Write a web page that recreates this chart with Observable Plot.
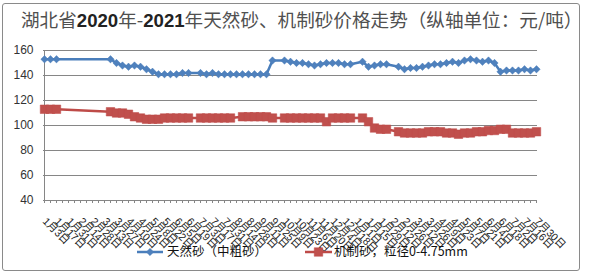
<!DOCTYPE html>
<html><head><meta charset="utf-8">
<script src="https://cdn.jsdelivr.net/npm/d3@7"></script>
<script src="https://cdn.jsdelivr.net/npm/@observablehq/plot@0.6"></script>
<style>
body{margin:0;background:#fff;}
#wrap{position:relative;width:590px;height:274px;overflow:hidden;font-family:"Noto Sans CJK SC",sans-serif;}
#chart{position:absolute;left:0;top:0;}
#legend{position:absolute;left:0;top:0;pointer-events:none;}
#border{position:absolute;left:1.5px;top:2.5px;width:578px;height:268px;border:1px solid #8a8a8a;border-radius:3px;box-sizing:border-box;pointer-events:none;}
#title{position:absolute;left:21px;top:6px;font-size:18.6px;color:#505050;white-space:nowrap;line-height:26px;}
#title b{color:#222;font-weight:bold;font-family:"Liberation Sans",sans-serif;}
</style></head><body>
<div id="wrap">
<div id="chart"></div>
<div id="title"></div>
<svg id="legend" width="590" height="274"></svg>
<div id="border"></div>
</div>
<script>
const titleText = "湖北省2020年-2021年天然砂、机制砂价格走势（纵轴单位：元/吨）";
const seriesNames = ["天然砂（中粗砂）", "机制砂，粒径0-4.75mm"];
const dates = [
"1月3日","1月10日","1月17日","1月24日","1月31日","2月7日","2月14日","2月21日","2月28日",
"3月6日","3月13日","3月20日","3月27日","4月3日","4月10日","4月17日","4月24日",
"5月1日","5月8日","5月15日","5月22日","5月29日","6月5日","6月12日","6月19日","6月26日",
"7月3日","7月10日","7月17日","7月24日","7月31日","8月7日","8月14日","8月21日","8月28日",
"9月4日","9月11日","9月18日","9月25日","10月2日","10月9日","10月16日","10月23日","10月30日",
"11月6日","11月13日","11月20日","11月27日","12月4日","12月11日","12月18日","12月25日",
"1月1日","1月8日","1月15日","1月22日","1月29日","2月5日","2月12日","2月19日","2月26日",
"3月5日","3月12日","3月19日","3月26日","4月2日","4月9日","4月16日","4月23日","4月30日",
"5月7日","5月14日","5月21日","5月28日","6月4日","6月11日","6月18日","6月25日",
"7月2日","7月9日","7月16日","7月23日","7月30日"];
const natural = [
153,153,153,null,null,null,null,null,null,null,null,
153,150,148,147,148,147,145,143,141,141,141,141,142,142,null,
142,141,142,141,141,141,141,141,141,141,141,141,
152,null,152,151,150,150,149,148,149,150,150,150,149,149,null,
151,147,148,149,149,null,
147,145,146,146,147,148,149,149,150,151,150,152,153,152,151,152,150,
143,144,144,144,145,144,145];
const machine = [
113,113,113,null,null,null,null,null,null,null,null,
111,110,110,109,107,106,105,105,105,106,106,106,106,106,null,
106,106,106,106,106,106,null,107,107,107,107,107,106,null,
106,106,106,106,106,106,106,103,106,106,106,106,null,
106,103,98,97,97,null,
95,94,94,94,94,95,95,95,94,94,93,94,94,95,95,96,96,97,97,
94,94,94,94,95];
const yTicks = [40,60,80,100,120,140,160];
const colors = {nat:"#4F81BD", natLine:"#4A7EBB", mac:"#C0504D", macLine:"#BE4B48"};

// title: digits shown bolder, as in the reference
document.getElementById("title").innerHTML =
  titleText.replace(/(\d{4})/g, "<b>$1</b>");

const rows = dates.map((d,i)=>({date:d, natural:natural[i], machine:machine[i]}));
const nat = rows.filter(d=>d.natural!=null);
const mac = rows.filter(d=>d.machine!=null);
const shown = new Set(dates.filter((d,i)=>i%2===0));

const chart = Plot.plot({
  width:590, height:274,
  marginLeft:43, marginRight:53, marginTop:50, marginBottom:74,
  style:{background:"transparent", fontFamily:"'Liberation Sans','Noto Sans CJK SC',sans-serif", overflow:"visible"},
  x:{type:"point", domain:dates, padding:0, label:null},
  y:{domain:[40,160], label:null},
  marks:[
    Plot.gridY(yTicks, {stroke:"#868686", strokeOpacity:1}),
    Plot.ruleX([dates[0]], {y1:40, y2:160, stroke:"#868686"}),
    Plot.axisY(yTicks, {tickSize:0, tickPadding:10, fontSize:12, fill:"#333", label:null}),
    Plot.axisX(dates, {tickSize:3, tickFormat:d=>shown.has(d)?d:"", tickRotate:45, tickPadding:16, fontSize:10.5, stroke:"#868686", fill:"#222", label:null}),
    Plot.line(nat, {x:"date", y:"natural", stroke:colors.natLine, strokeWidth:2.5}),
    Plot.dot(nat, {x:"date", y:"natural", symbol:"diamond2", r:3.3, fill:colors.nat, stroke:colors.natLine, strokeWidth:0.5}),
    Plot.line(mac, {x:"date", y:"machine", stroke:colors.macLine, strokeWidth:2.5}),
    Plot.dot(mac, {x:"date", y:"machine", symbol:"square", r:4.8, fill:colors.mac, stroke:colors.macLine, strokeWidth:0.5})
  ]
});
document.getElementById("chart").appendChild(chart);

// legend
const lg = d3.select("#legend");
const items = [
  {name:seriesNames[0], x0:137, x1:163, stroke:colors.natLine, fill:colors.nat, sym:d3.symbolDiamond2, r:3.3, tx:167},
  {name:seriesNames[1], x0:305, x1:332, stroke:colors.macLine, fill:colors.mac, sym:d3.symbolSquare, r:4.8, tx:334}
];
const ly = 252;
for (const it of items) {
  lg.append("line").attr("x1",it.x0).attr("x2",it.x1).attr("y1",ly).attr("y2",ly)
    .attr("stroke",it.stroke).attr("stroke-width",2.5);
  lg.append("path").attr("d", d3.symbol(it.sym, Math.PI*it.r*it.r)())
    .attr("transform",`translate(${(it.x0+it.x1)/2},${ly})`).attr("fill",it.fill).attr("stroke",it.stroke).attr("stroke-width",0.5);
  lg.append("text").attr("x",it.tx).attr("y",ly).attr("dy","0.35em")
    .attr("font-size",12.5).attr("fill","#111")
    .attr("font-family","'Noto Sans CJK SC','Liberation Sans',sans-serif")
    .text(it.name);
}
</script>
</body></html>
